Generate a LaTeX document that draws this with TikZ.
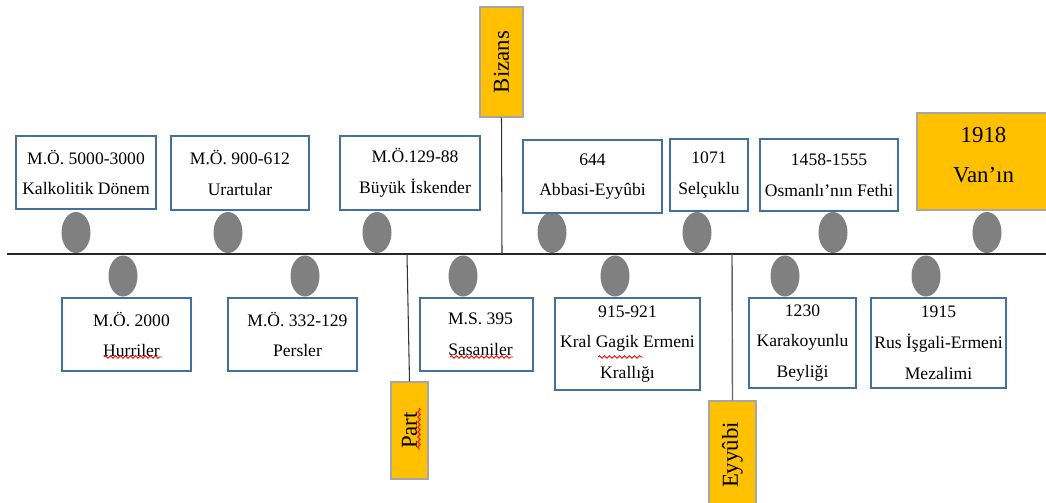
\documentclass[tikz,border=0pt]{standalone}
\usepackage{fontspec}
\setmainfont{Liberation Serif}
\usepackage{tikz}
\usetikzlibrary{shapes.geometric,decorations.pathmorphing}
\definecolor{kutumavi}{RGB}{65,113,156}
\definecolor{turuncu}{RGB}{255,192,0}
\definecolor{koyugri}{RGB}{128,128,128}
\begin{document}
\begin{tikzpicture}[x=0.2mm,y=0.2mm,
  olay/.style={draw=kutumavi,line width=1.1pt,fill=white,align=center,inner sep=0pt,font=\fontsize{10}{17.5}\selectfont},
  donem/.style={draw=black!35,line width=0.8pt,fill=turuncu,rotate=90,inner sep=0pt,font=\fontsize{13}{16}\selectfont},
  nokta/.style={ellipse,fill=koyugri,inner sep=0pt,minimum width=5.8mm,minimum height=8.2mm},
  hata/.style={red,line width=0.5pt,decorate,decoration={snake,amplitude=0.25mm,segment length=1mm}}]
\useasboundingbox (0,0) rectangle (1046,-503);
\coordinate (bas) at (7,-254);
\coordinate (son) at (1046,-254);
\coordinate (bizansdip) at (502,-254);
\coordinate (partust) at (407,-254);
\coordinate (eyyubiust) at (732,-254);
\draw [black!85,line width=0.7pt] (bas) -- (son);
\node [nokta] (n1) at (76,-232.5) {};
\node [nokta] (n2) at (228,-232.5) {};
\node [nokta] (n3) at (377,-232.5) {};
\node [nokta] (n4) at (552,-232.5) {};
\node [nokta] (n5) at (697,-232.5) {};
\node [nokta] (n6) at (833,-232.5) {};
\node [nokta] (n7) at (987,-232.5) {};
\node [nokta] (m1) at (123,-276) {};
\node [nokta] (m2) at (305,-276) {};
\node [nokta] (m3) at (463,-276) {};
\node [nokta] (m4) at (615,-276) {};
\node [nokta] (m5) at (785,-276) {};
\node [nokta] (m6) at (926,-276) {};
\node [olay,minimum width=28mm,minimum height=14.6mm] (kalkolitik) at (86,-172.5) {M.Ö. 5000-3000\\Kalkolitik Dönem};
\node [olay,minimum width=27.6mm,minimum height=14.8mm] (urartu) at (240,-173) {M.Ö. 900-612\\Urartular};
\node [olay,minimum width=28mm,minimum height=14.8mm] (iskender) at (410,-173) {\hspace*{2mm}M.Ö.129-88\\\hspace*{2mm}Büyük İskender};
\node [olay,minimum width=27.8mm,minimum height=14.6mm] (abbasi) at (592.5,-176.5) {644\\Abbasi-Eyyûbi};
\node [olay,minimum width=15.6mm,minimum height=14.4mm] (selcuklu) at (709,-175) {1071\\Selçuklu};
\node [olay,minimum width=27.6mm,minimum height=14.4mm] (osmanli) at (829,-175) {1458-1555\\Osmanlı’nın Fethi};
\node [draw=black!35,line width=0.8pt,fill=turuncu,inner sep=0pt,minimum width=26.6mm,minimum height=19.4mm,
  label={[align=center,font=\fontsize{13}{22.7}\selectfont,yshift=1.2mm]center:1918\\Van’ın}] (van) at (983.5,-161.5) {};
\node [olay,minimum width=25.8mm,minimum height=14.6mm] (hurri) at (126.5,-334.5) {\hspace*{2mm}M.Ö. 2000\\\hspace*{2mm}Hurriler};
\node [olay,minimum width=25.8mm,minimum height=14.6mm] (pers) at (292.5,-334.5) {\hspace*{2mm}M.Ö. 332-129\\\hspace*{2mm}Persler};
\node [olay,minimum width=22.6mm,minimum height=14.6mm] (sasani) at (476.5,-334.5) {\hspace*{1.6mm}M.S. 395\\\hspace*{1.6mm}Sasaniler};
\node [olay,minimum width=29mm,minimum height=18.4mm] (gagik) at (627.5,-344) {915-921\\Kral Gagik Ermeni\\Krallığı};
\node [olay,minimum width=21.4mm,minimum height=18mm] (karakoyunlu) at (802.5,-343) {1230\\Karakoyunlu\\Beyliği};
\node [olay,minimum width=27mm,minimum height=18mm] (rus) at (938.5,-343) {1915\\Rus İşgali-Ermeni\\Mezalimi};
\node [donem,minimum width=22mm,minimum height=8.6mm] (bizans) at (501.5,-62) {Bizans};
\node [donem,minimum width=19.4mm,minimum height=7.4mm] (part) at (409.5,-430.5) {Part};
\node [donem,minimum width=21.6mm,minimum height=9.4mm] (eyyubi) at (732.5,-455) {Eyyûbi};
\draw [black!80,line width=0.6pt] (bizans.west) -- (bizansdip);
\draw [black!80,line width=0.6pt] (partust) -- (part.east);
\draw [black!60,line width=0.8pt] (eyyubiust) -- (eyyubi.east);
\draw [hata] (104,-357) -- (162,-357);
\draw [hata] (450,-357) -- (513,-357);
\draw [hata] (598,-357) -- (643,-357);
\draw [hata] (419,-408) -- (419,-450);
\end{tikzpicture}
\end{document}
